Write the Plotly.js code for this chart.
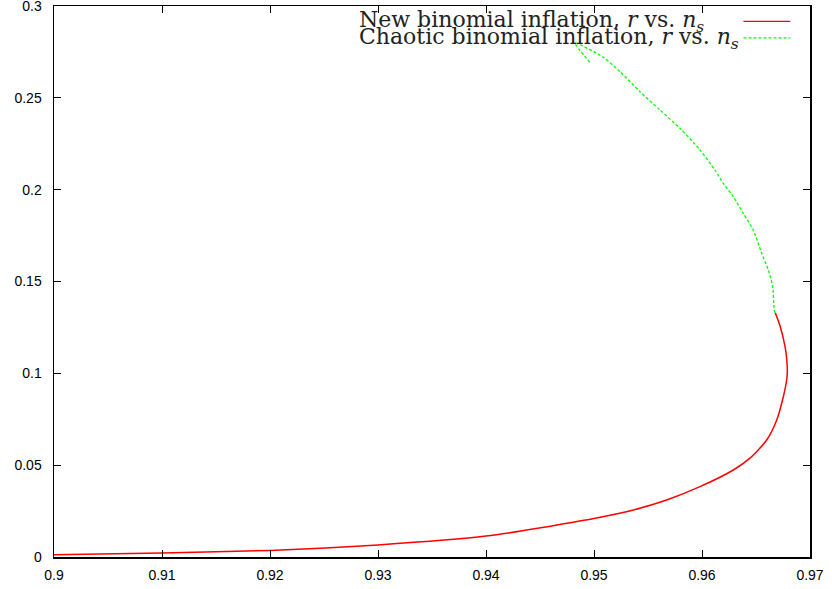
<!DOCTYPE html>
<html><head><meta charset="utf-8">
<script src="https://cdn.plot.ly/plotly-3.0.1.min.js"></script>
<style>html,body{margin:0;padding:0;background:#fff}#plot{width:832px;height:589px}</style>
</head><body><div id="plot"></div>
<script>
// New binomial inflation: r vs n_s
const newNs = [0.9, 0.91, 0.92, 0.93, 0.94, 0.95, 0.95364, 0.95673, 0.95981, 0.9629, 0.96444, 0.96599, 0.96692, 0.96753, 0.96784, 0.9679, 0.96784, 0.96769, 0.96725, 0.96678];
const newR  = [0.0012, 0.0022, 0.0036, 0.0066, 0.0114, 0.0210, 0.02559, 0.03103, 0.03828, 0.04737, 0.05381, 0.0637, 0.07459, 0.08728, 0.09637, 0.1009, 0.1080, 0.1145, 0.1254, 0.1330];
// Chaotic binomial inflation: r vs n_s
const chaNs = [0.96678, 0.96669, 0.96655, 0.96614, 0.96553, 0.96475, 0.96382, 0.9629, 0.96197, 0.9612, 0.95982, 0.95796, 0.95611, 0.95426, 0.95241, 0.95083, 0.94824, 0.94969];
const chaR  = [0.1330, 0.13448, 0.14717, 0.15626, 0.16535, 0.17804, 0.18713, 0.19617, 0.20346, 0.21071, 0.2216, 0.23341, 0.24337, 0.25334, 0.26423, 0.27222, 0.27985, 0.2688];
const xTicks = [0.9, 0.91, 0.92, 0.93, 0.94, 0.95, 0.96, 0.97];
const xTickText = ["0.9", "0.91", "0.92", "0.93", "0.94", "0.95", "0.96", "0.97"];
const yTicks = [0, 0.05, 0.1, 0.15, 0.2, 0.25, 0.3];
const yTickText = ["0", "0.05", "0.1", "0.15", "0.2", "0.25", "0.3"];
const legendLabels = ["New binomial inflation, <i>r</i> vs. <i>n<sub>s</sub></i>", "Chaotic binomial inflation, <i>r</i> vs. <i>n<sub>s</sub></i>"];
const colors = ["#ff0000", "#00ff00"];

const traces = [
  {x: newNs, y: newR, mode: 'lines', line: {color: colors[0], width: 1.5, shape: 'spline', smoothing: 0.7}, showlegend: false, hoverinfo: 'skip'},
  {x: chaNs, y: chaR, mode: 'lines', line: {color: colors[1], width: 1.3, dash: '3px,2px', shape: 'spline', smoothing: 0.6}, showlegend: false, hoverinfo: 'skip'}
];

const axCommon = {showgrid: false, zeroline: false, showline: true, mirror: 'allticks', linecolor: '#000', linewidth: 1.5,
  ticks: 'inside', ticklen: 7, tickcolor: '#000', tickwidth: 1, ticklabeloverflow: 'allow',
  tickfont: {family: 'Liberation Sans, Arial, sans-serif', size: 14, color: '#000'}};

const legY = [0.972, 0.941];
const annotations = legendLabels.map((t, i) => ({xref: 'paper', yref: 'paper', x: 0.401, y: legY[i], xanchor: 'left', yanchor: 'middle',
  text: t, showarrow: false, font: {family: 'DejaVu Serif, serif', size: 22, color: '#222'}}));
const shapes = colors.map((c, i) => ({type: 'line', xref: 'paper', yref: 'paper', x0: 0.912, x1: 0.974, y0: [0.972, 0.942][i], y1: [0.972, 0.942][i],
  line: {color: c, width: 1.3, dash: i === 1 ? '3px,2px' : 'solid'}}));

const layout = {
  width: 832, height: 589,
  margin: {l: 54, r: 22, t: 6, b: 32},
  paper_bgcolor: '#fff', plot_bgcolor: '#fff',
  xaxis: Object.assign({}, axCommon, {range: [0.9, 0.97], tickvals: xTicks, ticktext: xTickText, ticklabelstandoff: 5}),
  yaxis: Object.assign({}, axCommon, {range: [0, 0.3], tickvals: yTicks, ticktext: yTickText, ticklabelstandoff: 8}),
  annotations: annotations, shapes: shapes, showlegend: false
};
Plotly.newPlot('plot', traces, layout, {displayModeBar: false, staticPlot: true});
</script></body></html>
